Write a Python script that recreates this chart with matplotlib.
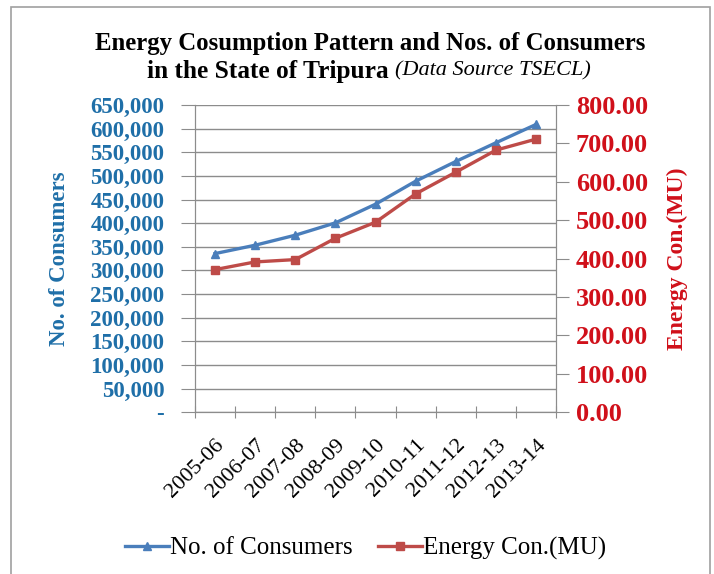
import matplotlib
matplotlib.use("Agg")
import matplotlib.pyplot as plt
import matplotlib.patches as mpatches
from matplotlib.ticker import FuncFormatter, MultipleLocator
import numpy as np

plt.rcParams["font.family"] = ["Liberation Serif", "DejaVu Serif"]

years = ["2005-06", "2006-07", "2007-08", "2008-09", "2009-10",
         "2010-11", "2011-12", "2012-13", "2013-14"]
consumers = [335600, 353300, 374500, 400600, 440200, 488900, 530600, 570200, 609000]
energy_mu = [371.3, 391.3, 397.4, 453.0, 494.8, 568.7, 625.2, 682.6, 711.3]

BLUE_LINE = "#4A7EBB"
RED_LINE = "#BE4B48"
BLUE_TXT = "#1F6FA8"
RED_TXT = "#D0101A"
GRID = "#8C8C8C"

fig = plt.figure(figsize=(7.14, 5.74), dpi=100)
ax = fig.add_axes([0.273, 0.282, 0.506, 0.535])
ax2 = ax.twinx()

x = np.arange(len(years)) + 0.5
ax.plot(x, consumers, color=BLUE_LINE, lw=2.4, marker="^", ms=5.5, label="No. of Consumers")
ax2.plot(x, energy_mu, color=RED_LINE, lw=2.4, marker="s", ms=5.5, label="Energy Con.(MU)")

ax.set_xlim(0, len(years))
ax.set_ylim(0, 650000)
ax2.set_ylim(0, 800)

ax.yaxis.set_major_locator(MultipleLocator(50000))
ax.yaxis.set_major_formatter(FuncFormatter(lambda v, p: "-" if v == 0 else f"{int(v):,}"))
ax2.yaxis.set_major_locator(MultipleLocator(100))
ax2.yaxis.set_major_formatter(FuncFormatter(lambda v, p: f"{v:.2f}"))

# category boundaries get the tick marks, labels sit at the centres
ax.set_xticks(np.arange(len(years) + 1))
ax.set_xticklabels([])
ax.set_xticks(x, minor=True)
ax.set_xticklabels(years, minor=True, rotation=45, ha="right", va="top",
                   rotation_mode="anchor", fontsize=16)
ax.tick_params(axis="x", which="minor", length=0, pad=17)
ax.tick_params(axis="x", which="major", length=8, color=GRID, direction="inout")

ax.grid(True, axis="y", color=GRID, lw=1.0)
ax.set_axisbelow(True)

for a in (ax, ax2):
    for s in a.spines.values():
        s.set_color(GRID)
    a.spines["top"].set_visible(False)

ax.tick_params(axis="y", length=10, color=GRID, labelsize=16.5, labelcolor=BLUE_TXT, pad=12)
ax2.tick_params(axis="y", length=9, color=GRID, labelsize=19, labelcolor=RED_TXT, pad=5)
for lab in ax.get_yticklabels() + ax2.get_yticklabels():
    lab.set_fontweight("bold")

ax.set_ylabel("No. of Consumers", color=BLUE_TXT, fontsize=16.5, fontweight="bold")
ax2.set_ylabel("Energy Con.(MU)", color=RED_TXT, fontsize=17, fontweight="bold")
ax.yaxis.set_label_coords(-0.345, 0.5)
ax2.yaxis.set_label_coords(1.307, 0.5)

fig.text(0.518, 0.924, "Energy Cosumption Pattern and Nos. of Consumers",
         ha="center", va="center", fontsize=17.8, fontweight="bold")
fig.text(0.553, 0.876, "in the State of Tripura ", ha="right", va="center",
         fontsize=18.3, fontweight="bold")
fig.text(0.553, 0.876, "(Data Source TSECL)", ha="left", va="center",
         fontsize=16, style="italic")

h1, l1 = ax.get_legend_handles_labels()
h2, l2 = ax2.get_legend_handles_labels()
fig.legend(h1 + h2, l1 + l2, loc="center", bbox_to_anchor=(0.512, 0.045), ncol=2,
           frameon=False, fontsize=18, handlelength=1.75, columnspacing=1.0,
           handletextpad=0.05)

border = mpatches.Rectangle((11 / 714, -0.05), (710 - 11) / 714, 1.05 - 7 / 574,
                            transform=fig.transFigure, fill=False, ec="#A0A0A0", lw=1.2)
fig.add_artist(border)

fig.savefig("out.png", dpi=100)
